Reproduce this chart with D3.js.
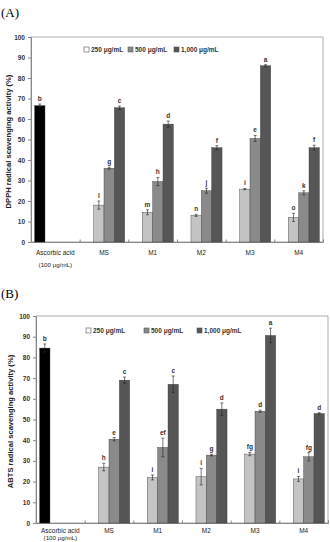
<!DOCTYPE html>
<html>
<head>
<meta charset="utf-8">
<script src="https://cdn.jsdelivr.net/npm/d3@7"></script>
<style>
  body { margin: 0; background: #fff; }
  svg { display: block; font-family: "Liberation Sans", Arial, sans-serif; }
</style>
</head>
<body>
<div id="chart"></div>
<script>
// categories and series
const categories = ['Ascorbic acid', 'MS', 'M1', 'M2', 'M3', 'M4'];
const series = ['ascorbic', '250', '500', '1000'];
const legendLabels = ['250 μg/mL', '500 μg/mL', '1,000 μg/mL'];
const yTicks = [0, 10, 20, 30, 40, 50, 60, 70, 80, 90, 100];

// (A) DPPH
const dpphAscorbic = [66.5];
const dpphAscorbicErr = [0.8];
const dpphAscorbicLetter = ['b'];
const dpph250 = [18, 14.5, 13, 25.8, 12];
const dpph250Err = [2, 1.2, 0.5, 0.3, 2];
const dpph250Letters = ['l', 'm', 'n', 'i', 'o'];
const dpph500 = [36, 29.5, 25, 50.5, 24];
const dpph500Err = [0.5, 2, 1.2, 1.5, 1];
const dpph500Letters = ['g', 'h', 'j', 'e', 'k'];
const dpph1000 = [65.5, 57.5, 46, 86, 46];
const dpph1000Err = [0.8, 1.5, 1, 0.5, 1.2];
const dpph1000Letters = ['c', 'd', 'f', 'a', 'f'];

// (B) ABTS
const abtsAscorbic = [84.5];
const abtsAscorbicErr = [2];
const abtsAscorbicLetter = ['b'];
const abts250 = [27, 22, 22.4, 33.3, 21.3];
const abts250Err = [1.8, 1.2, 4, 0.8, 1.2];
const abts250Letters = ['h', 'i', 'i', 'fg', 'i'];
const abts500 = [40.5, 36.5, 32.8, 54, 32];
const abts500Err = [0.8, 4.5, 0.4, 0.5, 2];
const abts500Letters = ['e', 'ef', 'g', 'd', 'fg'];
const abts1000 = [69, 67, 55, 90.6, 52.9];
const abts1000Err = [1.5, 4, 3, 3.5, 0.4];
const abts1000Letters = ['c', 'c', 'd', 'a', 'd'];

const colors = { ascorbic: '#000000', '250': '#c4c4c4', '500': '#8a8a8a', '1000': '#565656' };

const width = 330, height = 542;
const svg = d3.select('#chart').append('svg')
    .attr('width', width)
    .attr('height', height);

function buildRows(asc, ascErr, ascLetter, v250, e250, l250, v500, e500, l500, v1000, e1000, l1000) {
  const rows = [{ cat: categories[0], key: 'ascorbic', value: asc[0], err: ascErr[0], letter: ascLetter[0] }];
  categories.slice(1).forEach((c, i) => {
    rows.push({ cat: c, key: '250', value: v250[i], err: e250[i], letter: l250[i] });
    rows.push({ cat: c, key: '500', value: v500[i], err: e500[i], letter: l500[i] });
    rows.push({ cat: c, key: '1000', value: v1000[i], err: e1000[i], letter: l1000[i] });
  });
  return rows;
}

function drawPanel(cfg) {
  const g = svg.append('g');

  g.append('text')
      .attr('x', 1)
      .attr('y', cfg.panelY)
      .style('font-family', '"Liberation Serif", "Times New Roman", serif')
      .style('font-size', '13px')
      .text(cfg.panel);

  const x = d3.scaleBand()
      .domain(categories)
      .range([cfg.left, cfg.right]);

  // four slots per category: ascorbic acid takes the first, concentrations the rest
  const xInner = d3.scaleBand()
      .domain(series)
      .range([0, x.bandwidth()])
      .paddingOuter(0.35);

  const y = d3.scaleLinear()
      .domain([0, 100])
      .range([cfg.bottom, cfg.top]);

  // plot frame
  g.append('rect')
      .attr('x', cfg.left)
      .attr('y', cfg.top)
      .attr('width', cfg.right - cfg.left)
      .attr('height', cfg.bottom - cfg.top)
      .attr('fill', 'none')
      .attr('stroke', '#9a9a9a')
      .attr('stroke-width', 0.8);

  // y axis
  const yAxis = g.append('g')
      .attr('transform', `translate(${cfg.left},0)`)
      .call(d3.axisLeft(y).tickValues(yTicks).tickSize(3).tickPadding(3));
  yAxis.select('.domain').attr('stroke', '#888');
  yAxis.selectAll('.tick line').attr('stroke', '#888');
  yAxis.selectAll('.tick text')
      .style('font-size', '6.5px')
      .style('font-weight', 'bold')
      .attr('fill', '#333');

  // x axis with category boundary ticks
  const xb = d3.scaleLinear().domain([0, categories.length]).range([cfg.left, cfg.right]);
  const xAxisTicks = g.append('g')
      .attr('transform', `translate(0,${cfg.bottom})`)
      .call(d3.axisBottom(xb).ticks(categories.length).tickSize(-2.5).tickFormat(''));
  xAxisTicks.select('.domain').attr('stroke', '#888');
  xAxisTicks.selectAll('.tick line').attr('stroke', '#888');

  g.append('g')
      .selectAll('text')
      .data(categories)
      .join('text')
      .attr('x', d => x(d) + x.bandwidth() / 2)
      .attr('y', cfg.bottom + cfg.labelDy[0])
      .attr('text-anchor', 'middle')
      .style('font-size', '6.5px')
      .attr('fill', '#222')
      .text(d => d);

  g.append('text')
      .attr('x', x(categories[0]) + x.bandwidth() / 2)
      .attr('y', cfg.bottom + cfg.labelDy[1])
      .attr('text-anchor', 'middle')
      .style('font-size', '6.2px')
      .attr('fill', '#222')
      .text('(100 μg/mL)');

  // y title
  g.append('text')
      .attr('transform', `translate(${cfg.titleX},${(cfg.top + cfg.bottom) / 2 + 2}) rotate(-90)`)
      .attr('text-anchor', 'middle')
      .style('font-size', '7.6px')
      .style('font-weight', 'bold')
      .attr('fill', '#222')
      .text(cfg.yTitle);

  // legend
  const legend = g.append('g');
  series.slice(1).forEach((s, i) => {
    const lx = cfg.legendX[i];
    legend.append('rect')
        .attr('x', lx)
        .attr('y', cfg.legendY - 5)
        .attr('width', 5)
        .attr('height', 5)
        .attr('fill', i === 0 ? '#fff' : colors[s])
        .attr('stroke', '#555')
        .attr('stroke-width', 0.6);
    legend.append('text')
        .attr('x', lx + 7)
        .attr('y', cfg.legendY)
        .style('font-size', '6.5px')
        .style('font-weight', 'bold')
        .attr('fill', '#333')
        .text(legendLabels[i]);
  });

  const bars = g.append('g')
      .selectAll('g')
      .data(cfg.rows)
      .join('g')
      .attr('transform', d => `translate(${x(d.cat) + xInner(d.key)},0)`);

  bars.append('rect')
      .attr('x', 0)
      .attr('y', d => y(d.value))
      .attr('width', xInner.bandwidth())
      .attr('height', d => cfg.bottom - y(d.value))
      .attr('fill', d => colors[d.key])
      .attr('stroke', '#3a3a3a')
      .attr('stroke-width', 0.4);

  const cx = xInner.bandwidth() / 2;
  bars.append('line')
      .attr('x1', cx).attr('x2', cx)
      .attr('y1', d => y(d.value + d.err))
      .attr('y2', d => y(d.value - d.err))
      .attr('stroke', '#222')
      .attr('stroke-width', 0.6);
  bars.selectAll('.cap')
      .data(d => [d.value + d.err, d.value - d.err])
      .join('line')
      .attr('class', 'cap')
      .attr('x1', cx - 1.5).attr('x2', cx + 1.5)
      .attr('y1', v => y(v)).attr('y2', v => y(v))
      .attr('stroke', '#222')
      .attr('stroke-width', 0.6);

  bars.append('text')
      .attr('x', cx)
      .attr('y', d => y(d.value + d.err) - 3)
      .attr('text-anchor', 'middle')
      .style('font-size', '6.5px')
      .style('font-weight', 'bold')
      .attr('fill', '#333')
      .text(d => d.letter);
}

drawPanel({
  panel: '(A)',
  panelY: 17,
  left: 31, right: 323, top: 37, bottom: 242,
  titleX: 11,
  labelDy: [13, 25],
  yTitle: 'DPPH radical scavenging activity (%)',
  legendX: [84, 128, 174],
  legendY: 52,
  rows: buildRows(dpphAscorbic, dpphAscorbicErr, dpphAscorbicLetter,
      dpph250, dpph250Err, dpph250Letters,
      dpph500, dpph500Err, dpph500Letters,
      dpph1000, dpph1000Err, dpph1000Letters)
});

drawPanel({
  panel: '(B)',
  panelY: 298,
  left: 36, right: 328, top: 316, bottom: 523,
  titleX: 13,
  labelDy: [9.5, 16.5],
  yTitle: 'ABTS radical scavenging activity (%)',
  legendX: [86, 144, 197],
  legendY: 333,
  rows: buildRows(abtsAscorbic, abtsAscorbicErr, abtsAscorbicLetter,
      abts250, abts250Err, abts250Letters,
      abts500, abts500Err, abts500Letters,
      abts1000, abts1000Err, abts1000Letters)
});
</script>
</body>
</html>
